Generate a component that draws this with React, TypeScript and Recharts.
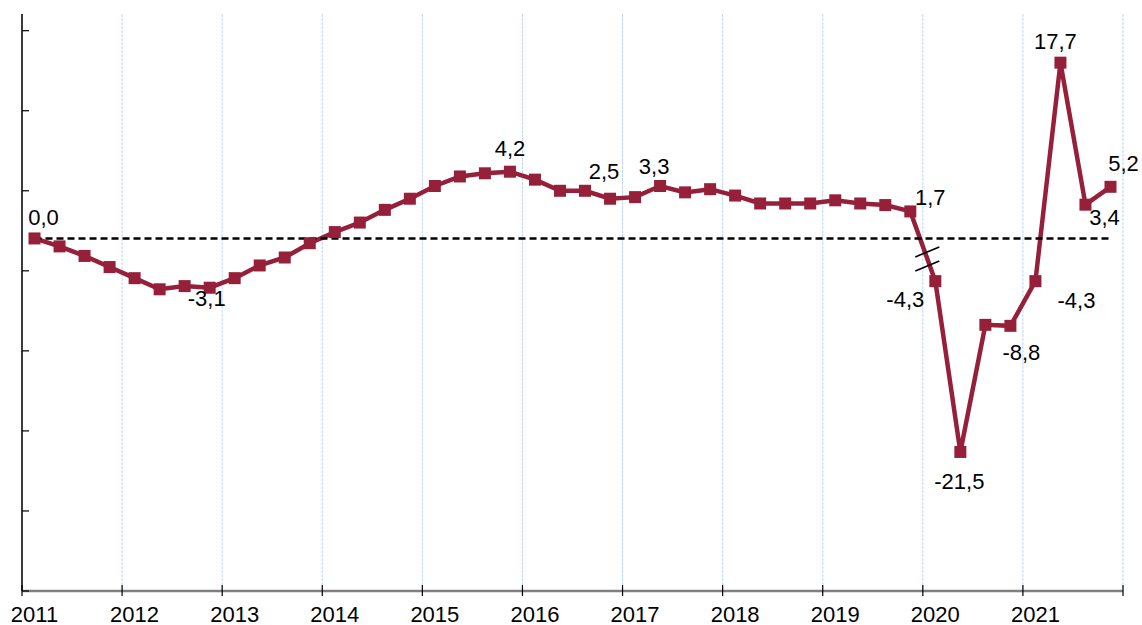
import { LineChart, Line, XAxis, YAxis, CartesianGrid, ReferenceDot } from 'recharts';

// quarterly observations, 2011 T1 .. 2021 T4
const quarters = [
  '2011T1', '2011T2', '2011T3', '2011T4',
  '2012T1', '2012T2', '2012T3', '2012T4',
  '2013T1', '2013T2', '2013T3', '2013T4',
  '2014T1', '2014T2', '2014T3', '2014T4',
  '2015T1', '2015T2', '2015T3', '2015T4',
  '2016T1', '2016T2', '2016T3', '2016T4',
  '2017T1', '2017T2', '2017T3', '2017T4',
  '2018T1', '2018T2', '2018T3', '2018T4',
  '2019T1', '2019T2', '2019T3', '2019T4',
  '2020T1', '2020T2', '2020T3', '2020T4',
  '2021T1', '2021T2', '2021T3', '2021T4',
];

// until 2019T4: cumulated change since 2011T1; from 2020T1: change on a year earlier (axis break)
const values = [
  0.0, -0.5, -1.1, -1.8,
  -2.5, -3.2, -3.0, -3.1,
  -2.5, -1.7, -1.2, -0.3,
  0.4, 1.0, 1.8, 2.5,
  3.3, 3.9, 4.1, 4.2,
  3.7, 3.0, 3.0, 2.5,
  2.6, 3.3, 2.9, 3.1,
  2.7, 2.2, 2.2, 2.2,
  2.4, 2.2, 2.1, 1.7,
  -4.3, -21.5, -8.7, -8.8,
  -4.3, 17.7, 3.4, 5.2,
];

const labelled = ['2011T1', '2012T4', '2015T4', '2016T4', '2017T2', '2019T4', '2020T1', '2020T2', '2020T4', '2021T1', '2021T2', '2021T3', '2021T4'];

const years = [2011, 2012, 2013, 2014, 2015, 2016, 2017, 2018, 2019, 2020, 2021, 2022];
const yearLabels = ['2011', '2012', '2013', '2014', '2015', '2016', '2017', '2018', '2019', '2020', '2021'];

const BREAK_AT = '2020T1';
const PRE_SCALE = 1.6; // the part before the break is drawn on a stretched scale

// label placement (dx, dy from point centre to text baseline)
const labelOffset: Record<string, [number, number]> = {
  '2011T1': [9, -13],
  '2012T4': [-3, 18],
  '2015T4': [0, -16],
  '2016T4': [-6, -20],
  '2017T2': [-6, -12],
  '2019T4': [20, -6],
  '2020T1': [-30, 26],
  '2020T2': [-1, 37],
  '2020T4': [11, 34],
  '2021T1': [41, 27],
  '2021T2': [-5, -14],
  '2021T3': [19, 20],
  '2021T4': [13, -16],
};

const COLOR = '#962039';
const FONT = '"Liberation Sans", Arial, sans-serif';
const FS = 22;

const breakIdx = quarters.indexOf(BREAK_AT);
const data = quarters.map((q, i) => {
  const year = Number(q.slice(0, 4));
  const qn = Number(q.slice(5));
  return {
    q,
    t: year + (qn - 0.5) / 4,
    y: i < breakIdx ? values[i] * PRE_SCALE : values[i],
    zero: 0,
    label: labelled.includes(q) ? values[i].toFixed(1).replace('.', ',') : '',
  };
});

const Y_MIN = -35.5;
const Y_MAX = 22.6;
const Y_STEP = 8.06;
const yTicks = Array.from({ length: 8 }, (_, k) => Y_MIN + k * Y_STEP);

const YearTick = ({ x, y, payload }: any) => {
  const lbl = yearLabels.includes(String(payload.value)) ? String(payload.value) : '';
  return (
    <g>
      <line x1={x} x2={x} y1={y - 6} y2={y + 5} stroke="#000" strokeWidth={1.2} />
      <text x={x + 12.5} y={y + 30.5} textAnchor="middle" fontSize={FS} fontFamily={FONT} fill="#000">
        {lbl}
      </text>
    </g>
  );
};

const SquareDot = ({ cx, cy, payload }: any) => {
  const off = labelOffset[payload.q];
  return (
    <g>
      <rect x={cx - 6} y={cy - 6} width={12} height={12} fill={COLOR} />
      {payload.label && off && (
        <text x={cx + off[0]} y={cy + off[1]} textAnchor="middle" fontSize={FS} fontFamily={FONT} fill="#000">
          {payload.label}
        </text>
      )}
    </g>
  );
};

const BreakMark = ({ cx, cy }: any) => {
  const x = cx + 4.5;
  const y = cy + 12.6;
  return (
    <g stroke="#000" strokeWidth={1.6}>
      <line x1={x - 12} y1={y - 2} x2={x + 12} y2={y - 12} />
      <line x1={x - 12} y1={y + 12} x2={x + 12} y2={y + 2} />
    </g>
  );
};

export default function App() {
  const a = data[breakIdx - 1];
  const b = data[breakIdx];
  return (
    <div style={{ fontFamily: FONT }}>
      <style>{'body{margin:0}'}</style>
      <LineChart width={1142} height={625} data={data} margin={{ top: 14, right: 19, bottom: 4, left: 22 }}>
        <CartesianGrid horizontal={false} stroke="#c2d6f0" strokeDasharray="3 1" />
        <XAxis
          type="number"
          dataKey="t"
          domain={[2011, 2022]}
          ticks={years}
          interval={0}
          tickSize={0}
          tickMargin={0}
          tickLine={false}
          tick={<YearTick />}
          height={30}
          stroke="#7f7f7f"
          strokeWidth={2.5}
        />
        <YAxis
          type="number"
          domain={[Y_MIN, Y_MAX]}
          ticks={yTicks}
          tickFormatter={() => ''}
          width={1}
          mirror
          tickSize={7}
          stroke="#000"
          strokeWidth={1.5}
          tickLine={{ stroke: '#000', strokeWidth: 1.2 }}
          axisLine={{ stroke: '#000', strokeWidth: 1.5 }}
          allowDataOverflow
        />
        <Line
          dataKey="y"
          stroke={COLOR}
          strokeWidth={4.5}
          dot={<SquareDot />}
          activeDot={false}
          isAnimationActive={false}
        />
        <Line
          dataKey="zero"
          stroke="#000"
          strokeWidth={2.4}
          strokeDasharray="7 4"
          dot={false}
          activeDot={false}
          isAnimationActive={false}
        />
        <ReferenceDot x={(a.t + b.t) / 2} y={(a.y + b.y) / 2} r={0} shape={<BreakMark />} />
      </LineChart>
    </div>
  );
}
